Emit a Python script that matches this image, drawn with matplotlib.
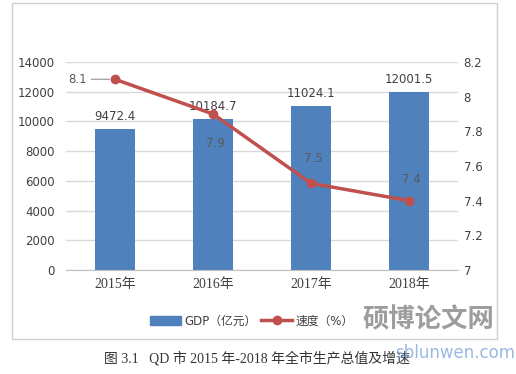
import matplotlib.pyplot as plt
from matplotlib.patches import Rectangle
from matplotlib.lines import Line2D

plt.rcParams['font.family'] = ['DejaVu Sans', 'Noto Sans CJK SC']

years = ['2015年', '2016年', '2017年', '2018年']
gdp = [9472.4, 10184.7, 11024.1, 12001.5]
speed = [8.1, 7.9, 7.5, 7.4]

bar_color = '#4f81bd'
line_color = '#c0504d'
grid_color = '#d9d9d9'
text_color = '#404040'

fig = plt.figure(figsize=(5.16, 3.74), dpi=100)
W, H = 516, 374

# chart frame
fig.patches.append(Rectangle((12 / W, 1 - 339 / H), 485 / W, 336 / H,
                             transform=fig.transFigure, fill=False,
                             edgecolor='#d0d0d0', lw=1))

ax = fig.add_axes([66 / W, 1 - 270 / H, 392 / W, 208 / H])
x = range(len(years))
ax.bar(x, gdp, width=0.41, color=bar_color, zorder=2)
ax.set_ylim(0, 14000)
ax.set_xlim(-0.5, 3.5)
ax.set_yticks(range(0, 14001, 2000))
ax.yaxis.grid(True, color=grid_color, lw=1)
ax.set_axisbelow(True)
for s in ax.spines.values():
    s.set_visible(False)
ax.spines['bottom'].set_visible(True)
ax.spines['bottom'].set_color('#bfbfbf')
ax.tick_params(axis='both', length=0, labelsize=8.5, colors=text_color)
ax.tick_params(axis='y', pad=8)
ax.tick_params(axis='x', pad=6)
ax.set_xticks(list(x))
ax.set_xticklabels(years, family=['Liberation Serif', 'Noto Sans CJK SC'], fontsize=10)
for i, v in enumerate(gdp):
    ax.text(i, v + 400, f'{v}', ha='center', va='bottom', fontsize=8.5, color=text_color)

ax2 = ax.twinx()
ax2.plot(x, speed, color=line_color, lw=2.5, marker='o', ms=6, zorder=3)
ax2.set_ylim(7, 8.2)
ax2.set_yticks([7, 7.2, 7.4, 7.6, 7.8, 8, 8.2])
ax2.set_yticklabels(['7', '7.2', '7.4', '7.6', '7.8', '8', '8.2'])
for s in ax2.spines.values():
    s.set_visible(False)
ax2.tick_params(axis='y', length=0, labelsize=8.5, colors=text_color, pad=4)

# line labels
ax2.annotate(f'{speed[0]}', (0, speed[0]), xytext=(-20, 0), textcoords='offset points',
             ha='right', va='center', fontsize=8.5, color='#595959',
             arrowprops=dict(arrowstyle='-', color='#a6a6a6', lw=1, shrinkA=1, shrinkB=4))
ax2.annotate(f'{speed[1]}', (1, speed[1]), xytext=(2, -21), textcoords='offset points',
             ha='center', va='center', fontsize=8.5, color='#595959')
ax2.annotate(f'{speed[2]}', (2, speed[2]), xytext=(2, 18), textcoords='offset points',
             ha='center', va='center', fontsize=8.5, color='#595959')
ax2.annotate(f'{speed[3]}', (3, speed[3]), xytext=(2, 15), textcoords='offset points',
             ha='center', va='center', fontsize=8.5, color='#595959')

# legend
handles = [Rectangle((0, 0), 1, 1, color=bar_color),
           Line2D([], [], color=line_color, lw=2.5, marker='o', ms=6)]
fig.legend(handles, ['GDP（亿元）', '速度（%）'], loc='center',
           bbox_to_anchor=(252 / W, 1 - 321 / H), ncol=2, frameon=False,
           fontsize=8.5, labelcolor=text_color, handlelength=2.6,
           handleheight=0.9, columnspacing=0.4, handletextpad=0.3)

# caption
fig.text(104 / W, 1 - 358 / H, '图 3.1   QD 市 2015 年-2018 年全市生产总值及增速',
         family=['Liberation Serif', 'Noto Sans CJK SC'], fontsize=10,
         color='#333333', va='center')

# watermark
fig.text(428 / W, 1 - 320 / H, '硕博论文网', fontsize=19, color='#8c8c8c',
         ha='center', va='center', alpha=0.85, weight='bold')
fig.text(455 / W, 1 - 353 / H, 'sblunwen.com', fontsize=12, color='#7fa9d9',
         ha='center', va='center', alpha=0.8)

fig.savefig('out.png', dpi=100)
